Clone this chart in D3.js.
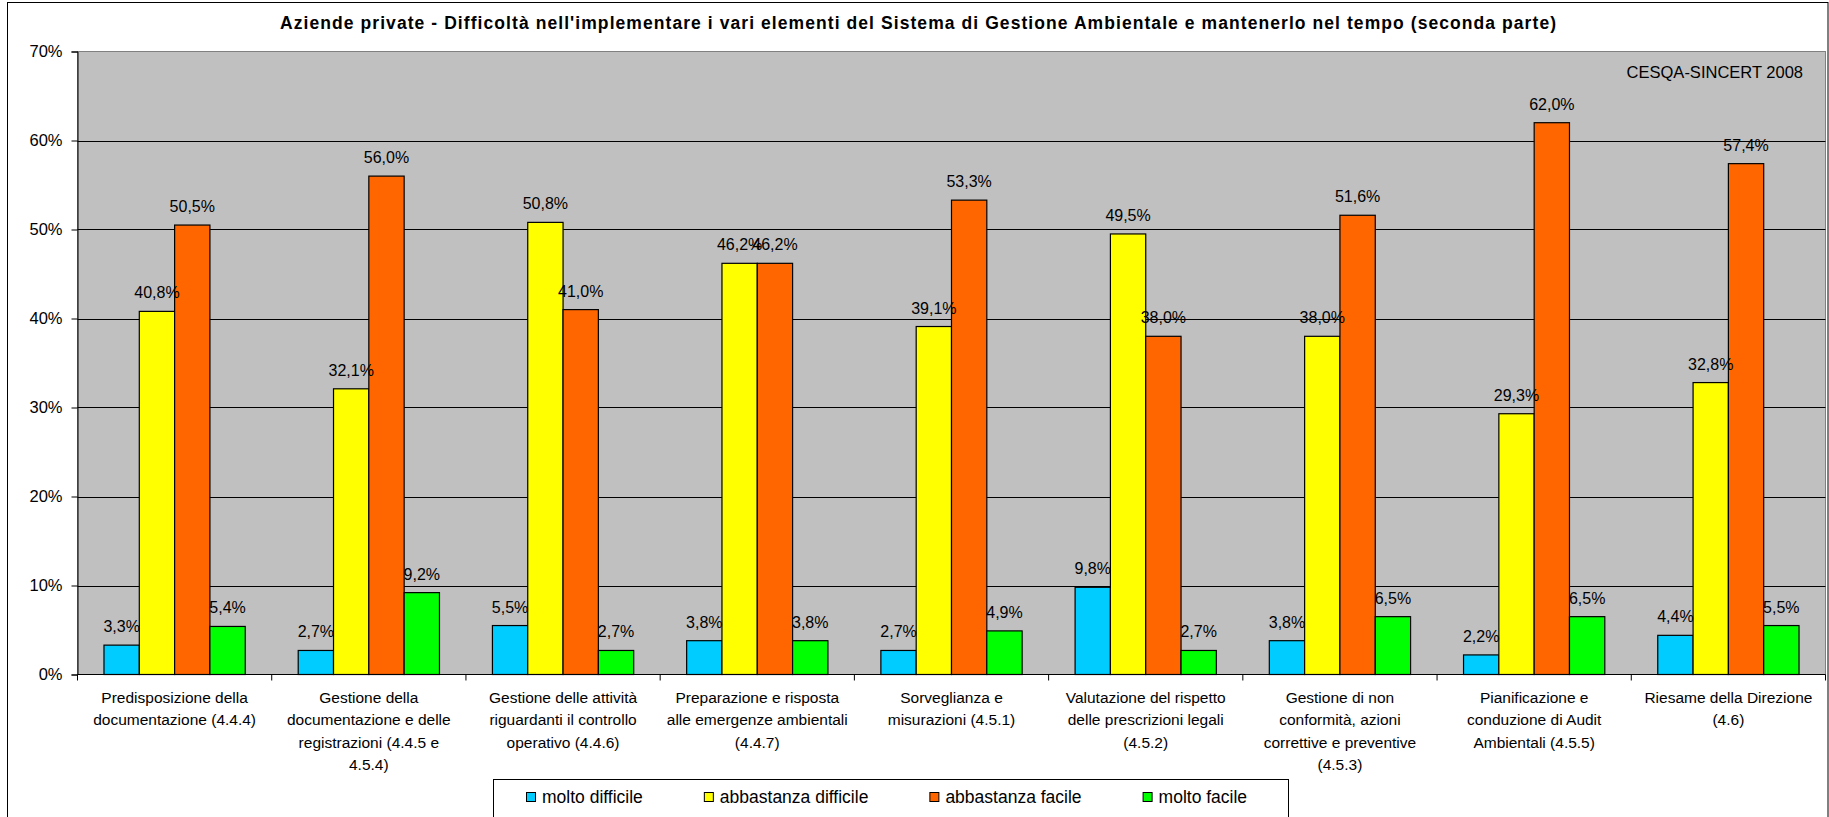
<!DOCTYPE html>
<html>
<head>
<meta charset="utf-8">
<script src="https://cdn.jsdelivr.net/npm/d3@7"></script>
<style>
  body { margin: 0; background: #fff; }
  svg { display: block; font-family: "Liberation Sans", Arial, sans-serif; }
</style>
</head>
<body>
<script>
// category labels, with the line breaks used in the original chart
const categories = [
  "Predisposizione della\ndocumentazione (4.4.4)",
  "Gestione della\ndocumentazione e delle\nregistrazioni (4.4.5 e\n4.5.4)",
  "Gestione delle attività\nriguardanti il controllo\noperativo (4.4.6)",
  "Preparazione e risposta\nalle emergenze ambientali\n(4.4.7)",
  "Sorveglianza e\nmisurazioni (4.5.1)",
  "Valutazione del rispetto\ndelle prescrizioni legali\n(4.5.2)",
  "Gestione di non\nconformità, azioni\ncorrettive e preventive\n(4.5.3)",
  "Pianificazione e\nconduzione di Audit\nAmbientali (4.5.5)",
  "Riesame della Direzione\n(4.6)"
];
const seriesNames = ["molto difficile", "abbastanza difficile", "abbastanza facile", "molto facile"];
const moltoDifficile      = [3.3, 2.7, 5.5, 3.8, 2.7, 9.8, 3.8, 2.2, 4.4];
const abbastanzaDifficile = [40.8, 32.1, 50.8, 46.2, 39.1, 49.5, 38.0, 29.3, 32.8];
const abbastanzaFacile    = [50.5, 56.0, 41.0, 46.2, 53.3, 38.0, 51.6, 62.0, 57.4];
const moltoFacile         = [5.4, 9.2, 2.7, 3.8, 4.9, 2.7, 6.5, 6.5, 5.5];
const yTicks = [0, 10, 20, 30, 40, 50, 60, 70];
const colors = ["#00CCFF", "#FFFF00", "#FF6600", "#00FF00"];
const title = "Aziende private - Difficoltà nell'implementare i vari elementi del Sistema di Gestione Ambientale e mantenerlo nel tempo (seconda parte)";
const source = "CESQA-SINCERT 2008";

const W = 1829, H = 817;
const plot = { left: 77.5, right: 1825.5, top: 51.5, bottom: 674.5 };

const seriesValues = [moltoDifficile, abbastanzaDifficile, abbastanzaFacile, moltoFacile];
const rows = categories.map((c, i) => ({
  cat: c,
  vals: seriesNames.map((s, j) => ({ s: s, v: seriesValues[j][i], color: colors[j] }))
}));

const svg = d3.select("body").append("svg")
  .attr("width", W)
  .attr("height", H);

// outer chart border
svg.append("rect")
  .attr("x", 7.5).attr("y", 2.5)
  .attr("width", W - 8.5).attr("height", H + 20)
  .attr("fill", "#fff")
  .attr("stroke", "#000");

const x0 = d3.scaleBand().domain(categories).range([plot.left, plot.right]).paddingInner(0).paddingOuter(0);
const x1 = d3.scaleBand().domain(seriesNames).range([0, x0.bandwidth()]).paddingInner(0).paddingOuter(0.75);
const y = d3.scaleLinear().domain([0, 70]).range([plot.bottom, plot.top]);

// plot background
svg.append("rect")
  .attr("x", plot.left).attr("y", plot.top)
  .attr("width", plot.right - plot.left).attr("height", plot.bottom - plot.top)
  .attr("fill", "#C0C0C0")
  .attr("stroke", "#808080");

// gridlines
svg.append("g")
  .selectAll("line")
  .data(yTicks.filter(d => d > 0 && d < 70))
  .enter().append("line")
  .attr("x1", plot.left).attr("x2", plot.right)
  .attr("y1", d => Math.round(y(d)) + 0.5).attr("y2", d => Math.round(y(d)) + 0.5)
  .attr("stroke", "#000");

// y axis
const yAxis = svg.append("g")
  .attr("transform", `translate(${plot.left},0)`)
  .call(d3.axisLeft(y).tickValues(yTicks).tickSize(6).tickPadding(9).tickFormat(d => d + "%"));
yAxis.select(".domain").attr("stroke", "#000");
yAxis.selectAll("text")
  .style("font-size", "16.5px")
  .style("font-family", "'Liberation Sans', Arial, sans-serif")
  .attr("fill", "#000");

// bars
const groups = svg.append("g")
  .selectAll("g")
  .data(rows)
  .enter().append("g")
  .attr("transform", d => `translate(${x0(d.cat)},0)`);

groups.selectAll("rect")
  .data(d => d.vals)
  .enter().append("rect")
  .attr("x", d => x1(d.s))
  .attr("y", d => y(d.v))
  .attr("width", x1.bandwidth())
  .attr("height", d => y(0) - y(d.v))
  .attr("fill", d => d.color)
  .attr("stroke", "#000")
  .attr("stroke-width", 1.2);

const fmt = v => d3.format(".1f")(v).replace(".", ",") + "%";
groups.selectAll("text.val")
  .data(d => d.vals)
  .enter().append("text")
  .attr("class", "val")
  .attr("x", d => x1(d.s) + x1.bandwidth() / 2)
  .attr("y", d => y(d.v) - 13)
  .attr("text-anchor", "middle")
  .style("font-size", "16px")
  .text(d => fmt(d.v));

// x axis line + ticks at category boundaries
svg.append("line")
  .attr("x1", plot.left).attr("x2", plot.right)
  .attr("y1", plot.bottom).attr("y2", plot.bottom)
  .attr("stroke", "#000");
svg.append("g")
  .selectAll("line")
  .data(categories.map(c => x0(c)).concat([plot.right]))
  .enter().append("line")
  .attr("x1", d => d).attr("x2", d => d)
  .attr("y1", plot.bottom).attr("y2", plot.bottom + 6)
  .attr("stroke", "#000");

// category labels
const catLabels = svg.append("g")
  .selectAll("text")
  .data(categories)
  .enter().append("text")
  .attr("text-anchor", "middle")
  .style("font-size", "15.5px");
catLabels.each(function(d) {
  const t = d3.select(this);
  const cx = x0(d) + x0.bandwidth() / 2;
  d.split("\n").forEach((line, i) => {
    t.append("tspan")
      .attr("x", cx)
      .attr("y", 703 + i * 22.3)
      .text(line);
  });
});

// title
svg.append("text")
  .attr("x", 918)
  .attr("y", 29)
  .attr("text-anchor", "middle")
  .attr("textLength", 1276)
  .attr("lengthAdjust", "spacing")
  .style("font-size", "17.5px")
  .style("font-weight", "bold")
  .text(title);

// source note
svg.append("text")
  .attr("x", 1803)
  .attr("y", 78)
  .attr("text-anchor", "end")
  .style("font-size", "16.5px")
  .text(source);

// legend
const legend = svg.append("g");
legend.append("rect")
  .attr("x", 493.5).attr("y", 779.5)
  .attr("width", 1288 - 493).attr("height", 60)
  .attr("fill", "#fff")
  .attr("stroke", "#000");

let lx = 526;
seriesNames.forEach((s, i) => {
  legend.append("rect")
    .attr("x", lx + 0.5).attr("y", 792.5)
    .attr("width", 9).attr("height", 9)
    .attr("fill", colors[i])
    .attr("stroke", "#000");
  const t = legend.append("text")
    .attr("x", lx + 16)
    .attr("y", 803)
    .style("font-size", "17.5px")
    .text(s);
  lx += 16 + t.node().getComputedTextLength() + 61;
});
</script>
</body>
</html>
